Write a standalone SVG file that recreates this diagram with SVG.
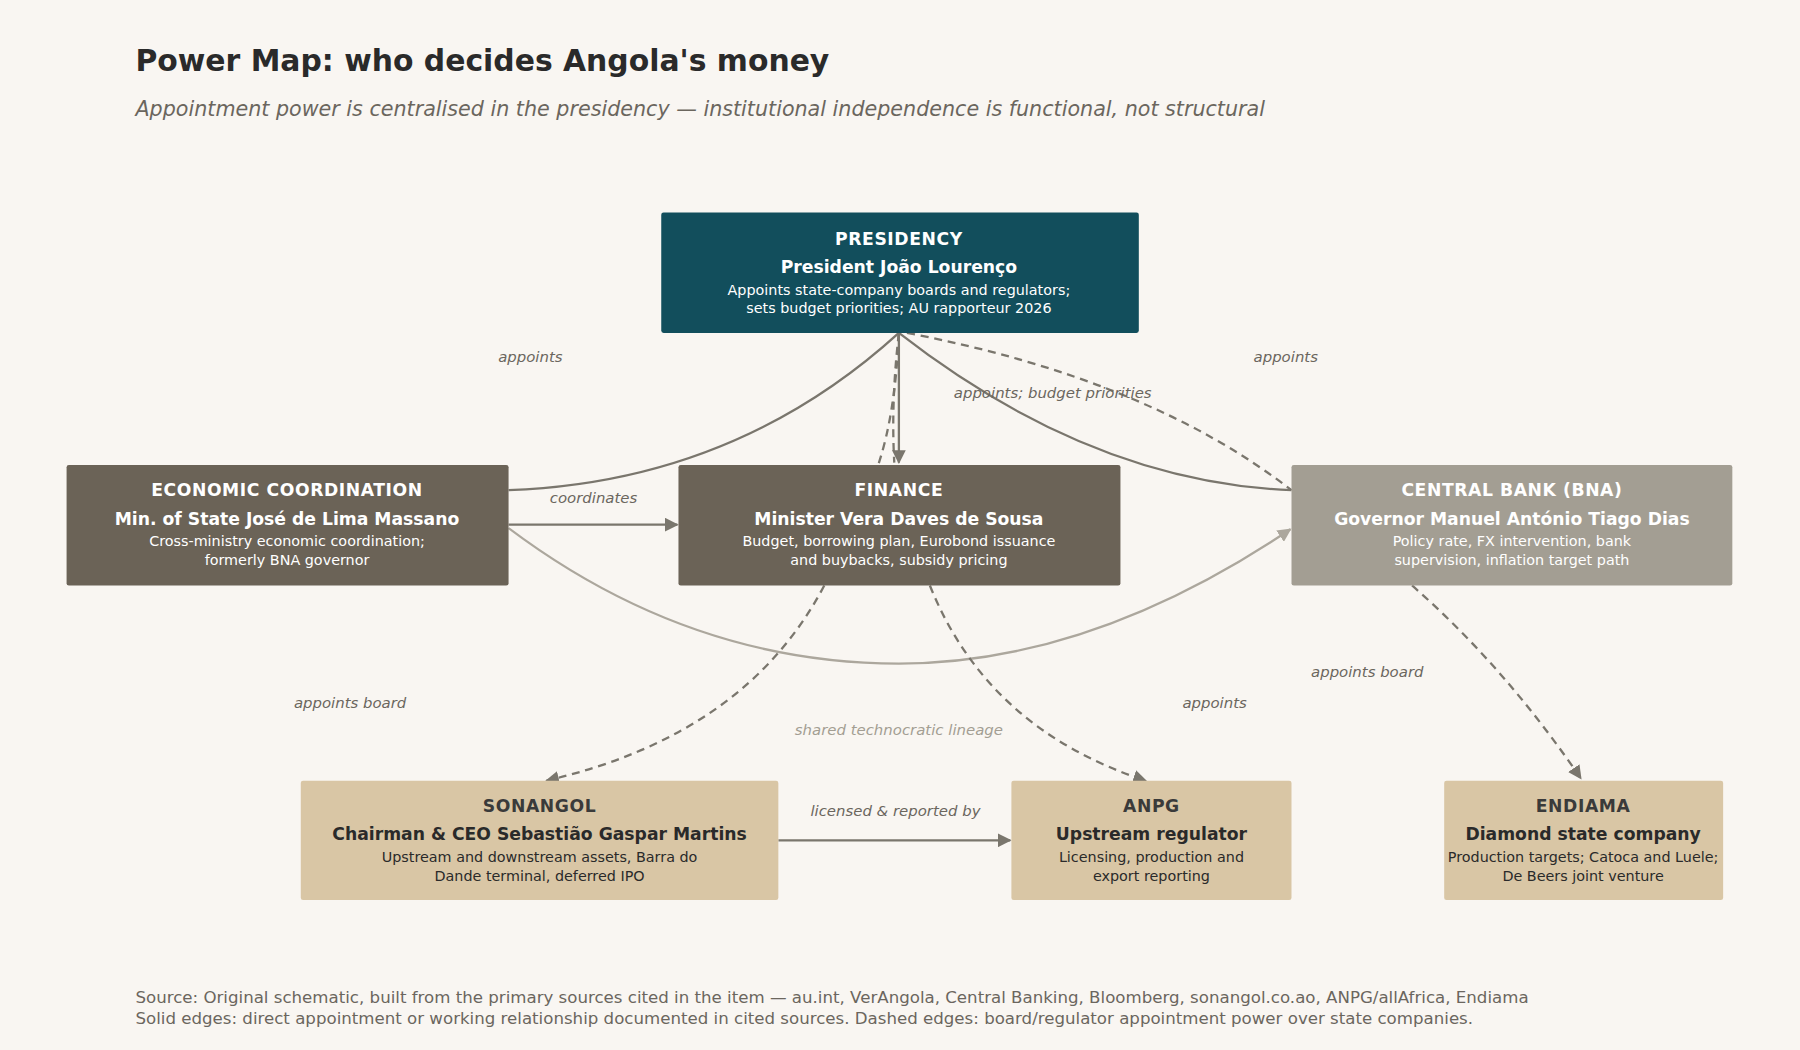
<svg xmlns="http://www.w3.org/2000/svg" width="1800" height="1050" viewBox="0 0 1800 1050">
<defs>
<style>
text{font-family:"DejaVu Sans","Noto Sans",sans-serif}
.t{font-size:15px;font-weight:bold;text-anchor:middle;letter-spacing:0.5px}
.n{font-size:15px;font-weight:bold;text-anchor:middle}
.d{font-size:12.5px;text-anchor:middle}
.w{fill:#ffffff}
.k{fill:#2a2a2a}
.kt{fill:#3a3a3a}
.lab{font-size:13px;font-style:italic;fill:#6b665e;text-anchor:middle}
.e{fill:none;stroke:#7a766d;stroke-width:2}
.ds{stroke-dasharray:7,5}
.lt{stroke:#aca79d}
</style>
<marker id="a" viewBox="0 0 10 10" refX="9" refY="5" markerWidth="6" markerHeight="6" orient="auto"><path d="M0,0L10,5L0,10z" fill="#7a766d"/></marker>
<marker id="b" viewBox="0 0 10 10" refX="9" refY="5" markerWidth="6" markerHeight="6" orient="auto"><path d="M0,0L10,5L0,10z" fill="#aca79d"/></marker>
</defs>
<rect width="1800" height="1050" fill="#f9f6f2"/>
<g transform="scale(1.148)">
<text x="118" y="62" style="font-size:26px;font-weight:bold" fill="#2a2a2a">Power Map: who decides Angola's money</text>
<text x="118" y="101" style="font-size:18px;font-style:italic" fill="#6b665e">Appointment power is centralised in the presidency — institutional independence is functional, not structural</text>
<g id="connectors">
<path class="e" d="M783,290 Q640,420 443,427"/>
<path class="e" d="M783,290 L783,403" marker-end="url(#a)"/>
<path class="e ds" d="M783,290 Q780,360 765,405"/>
<path class="e ds" d="M783,290 Q776,350 779,403"/>
<path class="e" d="M783,290 Q950,420 1125,427"/>
<path class="e ds" d="M790,290 Q1000,330 1125,427"/>
<path class="e" d="M443,457 L590,457" marker-end="url(#a)"/>
<path class="e lt" d="M443,460 Q600,578 783,578 Q950,578 1124,461" marker-end="url(#b)"/>
<path class="e ds" d="M718,510 Q650,640 476,680" marker-end="url(#a)"/>
<path class="e ds" d="M810,510 Q860,635 998,680" marker-end="url(#a)"/>
<path class="e ds" d="M1230,510 Q1310,580 1377,678" marker-end="url(#a)"/>
<path class="e" d="M678,732 L880,732" marker-end="url(#a)"/>
<text class="lab" x="462" y="315">appoints</text>
<text class="lab" x="1120" y="315">appoints</text>
<text class="lab" x="917" y="347">appoints; budget priorities</text>
<text class="lab" x="517" y="438">coordinates</text>
<text class="lab" x="783" y="640" style="fill:#a39e93">shared technocratic lineage</text>
<text class="lab" x="305" y="617">appoints board</text>
<text class="lab" x="1058" y="617">appoints</text>
<text class="lab" x="1191" y="590">appoints board</text>
<text class="lab" x="780" y="711">licensed &amp; reported by</text>
</g>
<g id="presidency"><rect x="576" y="185" width="416" height="105" rx="2" fill="#124e5c"/>
<text class="t w" x="783" y="213">PRESIDENCY</text><text class="n w" x="783" y="238">President João Lourenço</text>
<text class="d w" x="783" y="257">Appoints state-company boards and regulators;</text><text class="d w" x="783" y="273">sets budget priorities; AU rapporteur 2026</text></g>
<g id="econ"><rect x="58" y="405" width="385" height="105" rx="2" fill="#6b6357"/>
<text class="t w" x="250" y="432">ECONOMIC COORDINATION</text><text class="n w" x="250" y="457">Min. of State José de Lima Massano</text>
<text class="d w" x="250" y="476">Cross-ministry economic coordination;</text><text class="d w" x="250" y="492">formerly BNA governor</text></g>
<g id="finance"><rect x="591" y="405" width="385" height="105" rx="2" fill="#6b6357"/>
<text class="t w" x="783" y="432">FINANCE</text><text class="n w" x="783" y="457">Minister Vera Daves de Sousa</text>
<text class="d w" x="783" y="476">Budget, borrowing plan, Eurobond issuance</text><text class="d w" x="783" y="492">and buybacks, subsidy pricing</text></g>
<g id="bna"><rect x="1125" y="405" width="384" height="105" rx="2" fill="#a39e93"/>
<text class="t w" x="1317" y="432">CENTRAL BANK (BNA)</text><text class="n w" x="1317" y="457">Governor Manuel António Tiago Dias</text>
<text class="d w" x="1317" y="476">Policy rate, FX intervention, bank</text><text class="d w" x="1317" y="492">supervision, inflation target path</text></g>
<g id="sonangol"><rect x="262" y="680" width="416" height="104" rx="2" fill="#d9c6a5"/>
<text class="t kt" x="470" y="707">SONANGOL</text><text class="n k" x="470" y="732">Chairman &amp; CEO Sebastião Gaspar Martins</text>
<text class="d k" x="470" y="751">Upstream and downstream assets, Barra do</text><text class="d k" x="470" y="767">Dande terminal, deferred IPO</text></g>
<g id="anpg"><rect x="881" y="680" width="244" height="104" rx="2" fill="#d9c6a5"/>
<text class="t kt" x="1003" y="707">ANPG</text><text class="n k" x="1003" y="732">Upstream regulator</text>
<text class="d k" x="1003" y="751">Licensing, production and</text><text class="d k" x="1003" y="767">export reporting</text></g>
<g id="endiama"><rect x="1258" y="680" width="243" height="104" rx="2" fill="#d9c6a5"/>
<text class="t kt" x="1379" y="707">ENDIAMA</text><text class="n k" x="1379" y="732">Diamond state company</text>
<text class="d k" x="1379" y="751">Production targets; Catoca and Luele;</text><text class="d k" x="1379" y="767">De Beers joint venture</text></g>
<text x="118" y="874" style="font-size:14.5px" fill="#6b665e">Source: Original schematic, built from the primary sources cited in the item — au.int, VerAngola, Central Banking, Bloomberg, sonangol.co.ao, ANPG/allAfrica, Endiama</text>
<text x="118" y="892" style="font-size:14.5px" fill="#6b665e">Solid edges: direct appointment or working relationship documented in cited sources. Dashed edges: board/regulator appointment power over state companies.</text>
</g>
</svg>
